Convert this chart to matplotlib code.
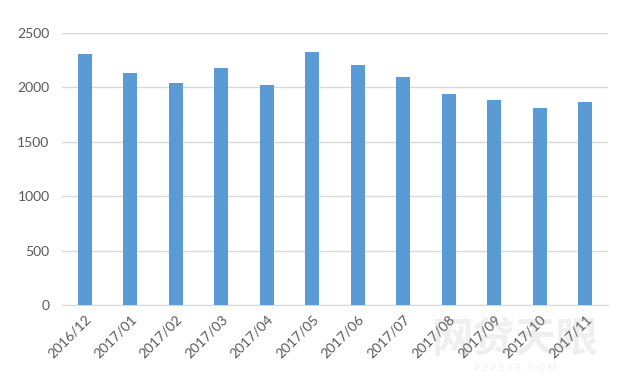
import matplotlib
matplotlib.use("Agg")
import matplotlib.pyplot as plt
import numpy as np

plt.rcParams['font.family'] = ['Lato', 'DejaVu Sans', 'Noto Sans CJK SC']

months = ["2016/12", "2017/01", "2017/02", "2017/03", "2017/04", "2017/05",
          "2017/06", "2017/07", "2017/08", "2017/09", "2017/10", "2017/11"]
values = [2305, 2135, 2040, 2180, 2020, 2330, 2210, 2100, 1940, 1880, 1810, 1870]

BAR_COLOR = "#5B9BD5"
TEXT_COLOR = "#595959"
GRID_COLOR = "#D9D9D9"

fig = plt.figure(figsize=(6.4, 3.84), dpi=100)
ax = fig.add_axes([0.097, 0.206, 0.853, 0.708])

x = np.arange(len(months))
ax.bar(x, values, width=0.31, color=BAR_COLOR, zorder=3)

ax.set_xlim(-0.5, len(months) - 0.5)
ax.set_ylim(0, 2500)
ax.set_yticks(range(0, 2501, 500))
ax.yaxis.grid(True, color=GRID_COLOR, linewidth=1, zorder=0)

ax.set_xticks(x)
ax.set_xticklabels(months, rotation=45, ha="right", rotation_mode="anchor")
ax.tick_params(axis="both", length=0, labelsize=10, colors=TEXT_COLOR)
ax.tick_params(axis="x", pad=6)
ax.tick_params(axis="y", pad=9)

for s in ["top", "right", "left"]:
    ax.spines[s].set_visible(False)
ax.spines["bottom"].set_color(GRID_COLOR)

# faint watermark
fig.text(0.805, 0.115, "网贷天眼", fontsize=30, fontweight="bold",
         family=["Noto Sans CJK SC"], color="#888888", alpha=0.13,
         ha="center", va="center")
fig.text(0.805, 0.04, "P 2 P E Y E . C O M", fontsize=7, color="#888888",
         alpha=0.15, ha="center", va="center")

fig.savefig("out.png", dpi=100)
